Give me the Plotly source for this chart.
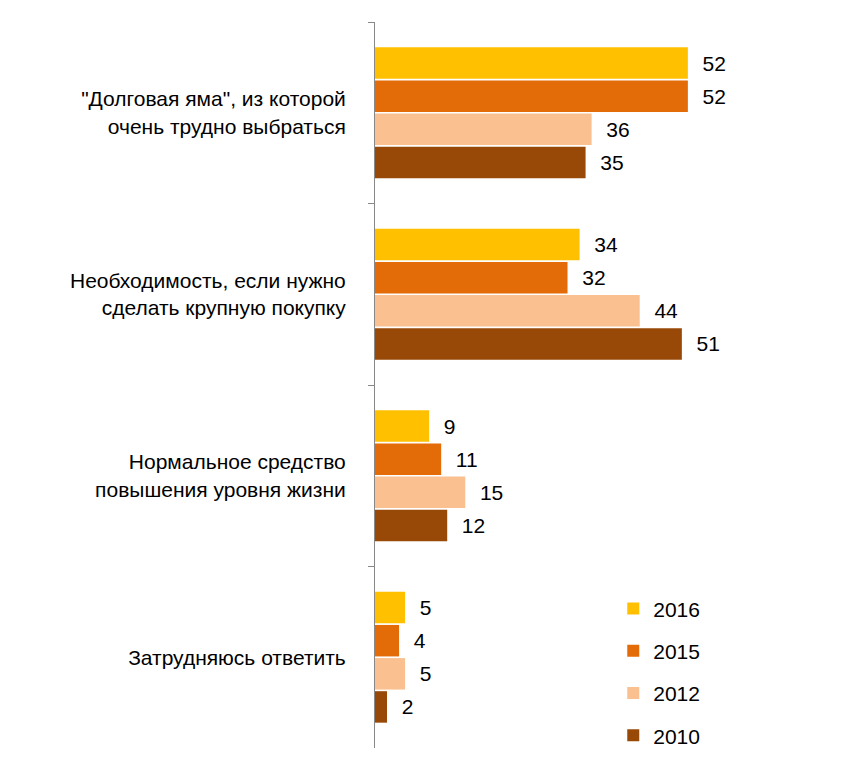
import plotly.graph_objects as go

categories = ['"Долговая яма", из которой<br>очень трудно выбраться',
              'Необходимость, если нужно<br>сделать крупную покупку',
              'Нормальное средство<br>повышения уровня жизни',
              'Затрудняюсь ответить']
years = ['2016', '2015', '2012', '2010']
values = {
    '2016': [52, 34, 9, 5],
    '2015': [52, 32, 11, 4],
    '2012': [36, 44, 15, 5],
    '2010': [35, 51, 12, 2],
}
colors = {'2016': '#FFC000', '2015': '#E36C09', '2012': '#FAC090', '2010': '#984807'}

fig = go.Figure()
for y in years:
    fig.add_trace(go.Bar(
        y=categories, x=values[y], name=y, orientation='h',
        marker=dict(color=colors[y], line=dict(width=0)),
        text=values[y], texttemplate='  %{x}', textposition='outside', cliponaxis=False,
        textfont=dict(size=21, color='#000'),
        legendgroup=y,
    ))

fig.update_layout(
    barmode='group', bargap=0.27, bargroupgap=0.05,
    width=841, height=782,
    margin=dict(l=367, r=113, t=14, b=42),
    plot_bgcolor='white', paper_bgcolor='white',
    font=dict(family='Liberation Sans, Arial, sans-serif', size=20, color='#000'),
    xaxis=dict(range=[0, 60], visible=False),
    yaxis=dict(autorange='reversed', showline=True, linecolor='#888', linewidth=1,
               ticks='outside', tickson='boundaries', ticklen=6, tickcolor='#888',
               ticklabelstandoff=24, tickfont=dict(size=21)),
    legend=dict(x=0.66, y=0.22, xanchor='left', yanchor='top',
                tracegroupgap=12, font=dict(size=21)),
    showlegend=True,
)

fig.write_html("out.html")
